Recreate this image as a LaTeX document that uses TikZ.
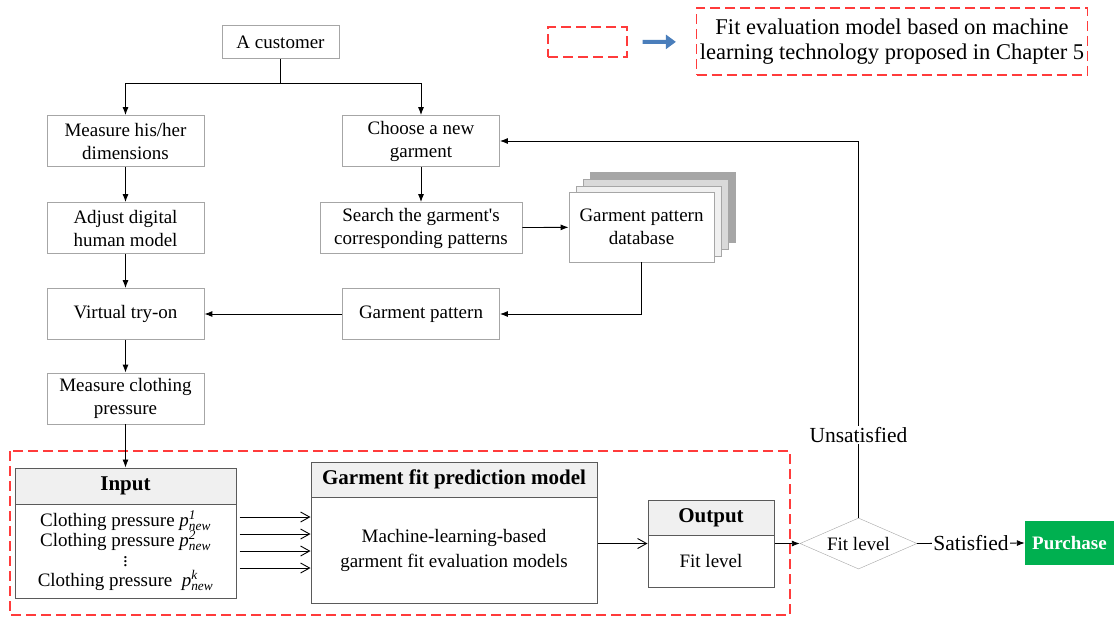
\documentclass[tikz,border=0pt]{standalone}
\usepackage{amsmath}
\usepackage{fontspec}
\setmainfont{Liberation Serif}
\usepackage{tikz}
\usetikzlibrary{positioning,shapes.geometric,arrows.meta}
\definecolor{boxgray}{HTML}{A6A6A6}
\definecolor{linegray}{HTML}{5A5A5A}
\definecolor{headgray}{HTML}{F0F0F0}
\definecolor{dashred}{HTML}{FF3B3B}
\definecolor{legblue}{HTML}{4A7EBB}
\definecolor{buygreen}{HTML}{00B050}
\newcommand{\pnew}[1]{$\textit{p}^{\textit{#1}}_{\textit{new}}$}
\tikzset{stepbox/.style={draw=boxgray,fill=white,line width=0.8pt,align=center,
		 minimum width=157,minimum height=51,inner sep=2pt},
	 headbox/.style={draw=linegray,fill=headgray,line width=1pt,inner sep=0pt,
		 font=\fontsize{21}{24}\selectfont\bfseries},
	 bodybox/.style={draw=linegray,fill=white,line width=1pt,align=center,inner sep=0pt},
	 pile/.style={draw=boxgray,line width=0.8pt,minimum width=145,minimum height=70},
	 arr/.style={-{Latex[length=8pt,width=6pt]},line width=0.9pt},
	 oarr/.style={-{Straight Barb[length=9pt,width=10pt]},line width=0.9pt},
	 reddash/.style={draw=dashred,dash pattern=on 10pt off 5pt,line width=1.3pt},
	 lab/.style={fill=white,inner sep=1pt,font=\fontsize{21.5}{24}\selectfont}
	 }
\begin{document}
\begin{tikzpicture}[x=1pt,y=-1pt,font=\fontsize{19}{23}\selectfont]
      \useasboundingbox (0,0) rectangle (1114,619);
      % legend
      \node[reddash,minimum width=79,minimum height=30] (leg) at (587.5,42) {};
      \node[reddash,align=center,minimum width=384,minimum height=67,
	    font=\fontsize{22.5}{25}\selectfont] (legtext) at (892,41.5)
	    {Fit evaluation model based on machine\\learning technology proposed in Chapter 5};
      \draw[legblue,line width=4pt,-{Triangle[length=10pt,width=14pt]},
	    shorten <=15pt,shorten >=20pt] (leg) -- (legtext);
      % upper flow
      \node[stepbox,minimum width=117,minimum height=33] (cust) at (280.5,42) {A customer};
      \node[stepbox] (meas) at (125.5,141) {Measure his/her\\dimensions};
      \node[stepbox] (choose) at (421,141) {Choose a new\\garment};
      \node[stepbox] (adjust) at (125.5,228) {Adjust digital\\human model};
      \node[stepbox,minimum width=202] (search) at (421,228)
	    {Search the garment\textquotesingle s\\corresponding patterns};
      \node[pile,fill=black!35] (db4) at (662.5,207) {};
      \node[pile,fill=black!15] (db3) at (655.5,214.5) {};
      \node[pile,fill=black!6] (db2) at (648.5,221.5) {};
      \node[pile,fill=white,align=center] (db) at (641.5,227) {Garment pattern\\database};
      \node[stepbox] (try) at (125.5,314) {Virtual try-on};
      \node[stepbox] (pat) at (421,314) {Garment pattern};
      \node[stepbox] (press) at (125.5,398.5) {Measure clothing\\pressure};
      \coordinate (split) at (280.5,83);
      \draw[arr] (cust) -- (split) -| (meas);
      \draw[arr] (split) -| (choose);
      \draw[arr] (meas) -- (adjust);
      \draw[arr] (adjust) -- (try);
      \draw[arr] (choose) -- (search);
      \draw[arr] (search) -- (db);
      \draw[arr] (db.south) |- (pat.east);
      \draw[arr] (pat) -- (try);
      \draw[arr] (try) -- (press);
      % fit evaluation model
      \draw[reddash] (10,451) rectangle (790,615);
      \node[headbox,minimum width=221,minimum height=36] (inhead) at (125.5,486) {Input};
      \node[bodybox,minimum width=221,minimum height=94,font=\fontsize{19}{20}\selectfont]
	    (inbody) at (125.5,551)
	    {Clothing pressure \pnew{1}\\Clothing pressure \pnew{2}\\
	     \smash{$\vdots$}\\Clothing pressure\ \ \pnew{k}};
      \node[headbox,minimum width=286,minimum height=35] (ghead) at (454,479.5) {Garment fit prediction model};
      \node[bodybox,minimum width=286,minimum height=106,font=\fontsize{19}{25}\selectfont]
	    (gbody) at (454,550) {Machine-learning-based\\garment fit evaluation models};
      \node[headbox,minimum width=126,minimum height=35] (ohead) at (711,517.5) {Output};
      \node[bodybox,minimum width=126,minimum height=52] (obody) at (711,561) {Fit level};
      \draw[arr] (press) -- (inhead);
      \foreach \y in {517,534,551,568}
	  \draw[oarr,shorten <=3pt] (inbody.east |- 0,\y) -- (gbody.west |- 0,\y);
      % decision
      \node[diamond,draw=boxgray,fill=white,aspect=2.3,inner sep=1pt,
	    minimum width=117,minimum height=51] (fit) at (858.5,543.5) {Fit level};
      \node[fill=buygreen,text=white,font=\fontsize{19}{23}\selectfont\bfseries,
	    minimum width=89,minimum height=44] (buy) at (1069.5,543) {Purchase};
      \draw[oarr] (gbody.east |- fit.west) -- (obody.west |- fit.west);
      \draw[arr] (obody.east |- fit.west) -- (fit.west);
      \draw[arr] (fit.east) -- node[lab] {Satisfied} (buy.west);
      \draw[arr] (fit.north) |- node[lab,pos=0.11] {Unsatisfied} (choose.east);
  \end{tikzpicture}
\end{document}
